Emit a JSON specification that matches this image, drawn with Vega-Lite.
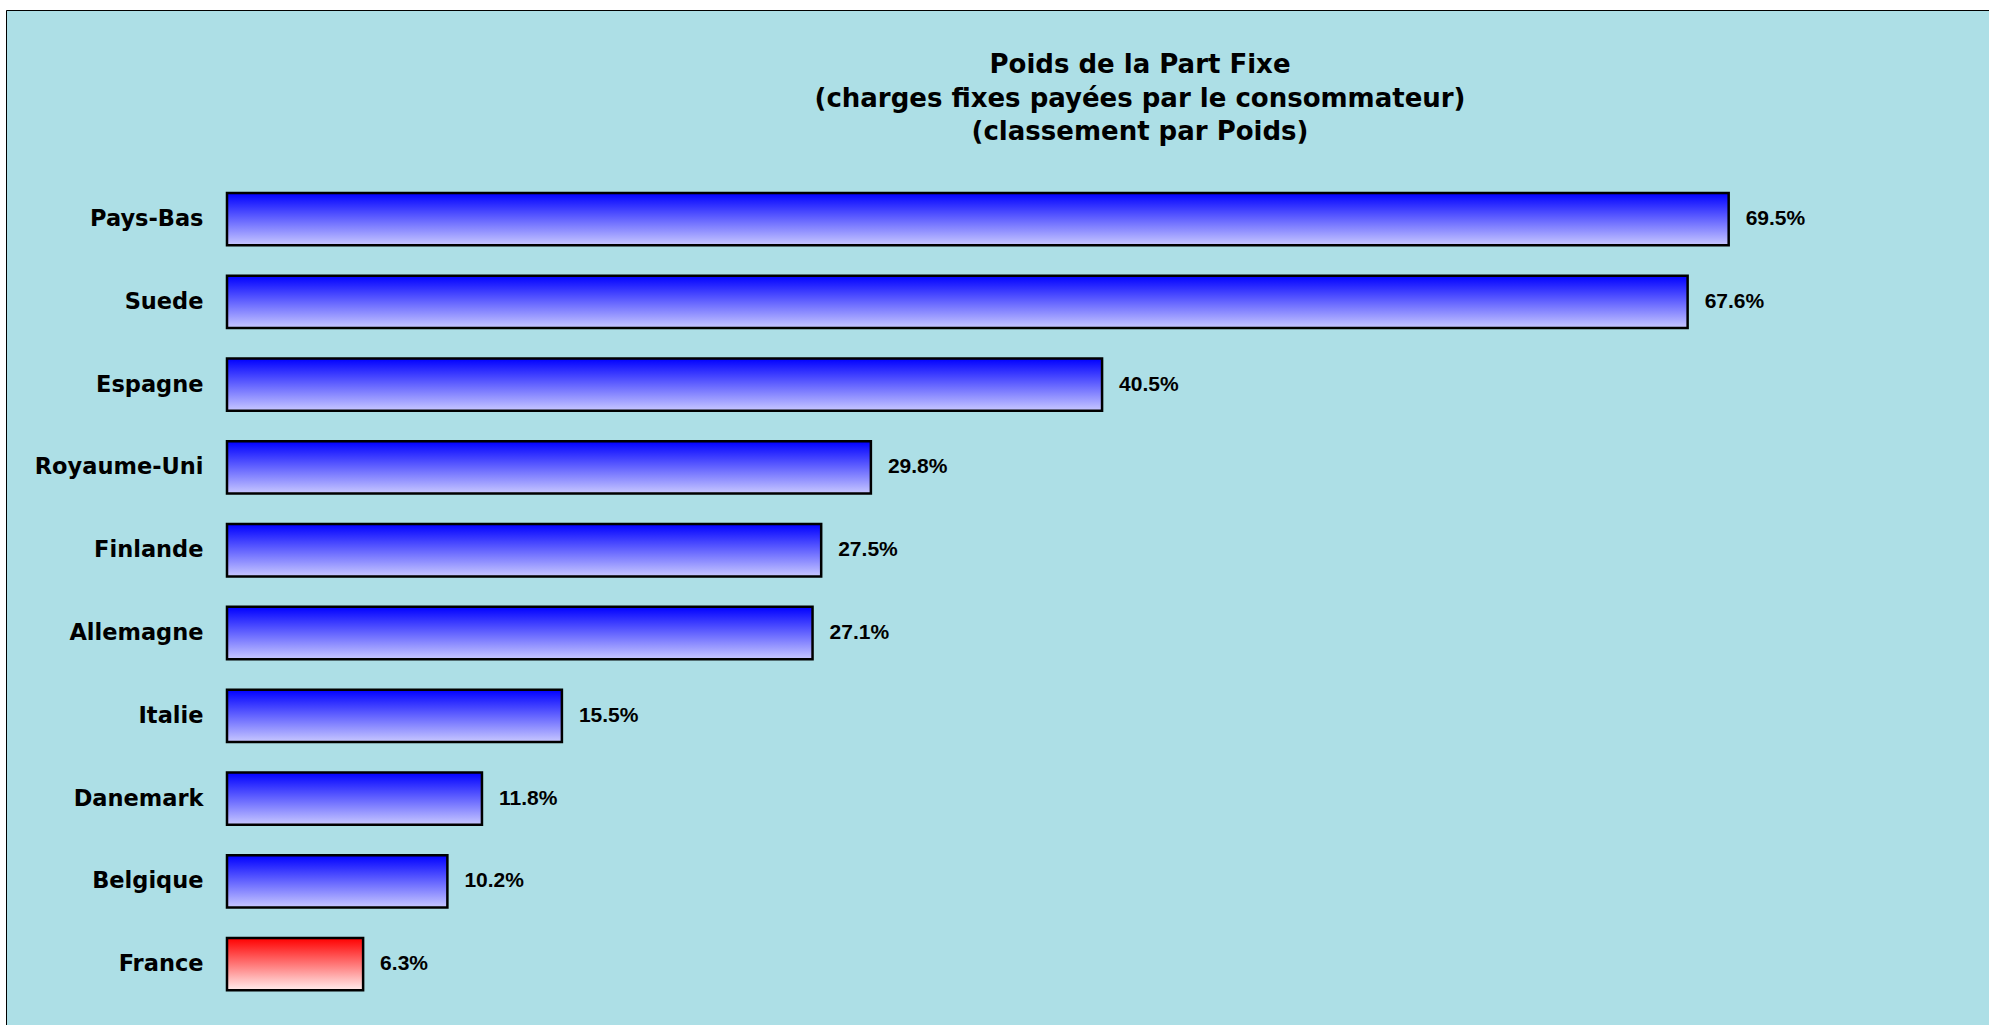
{
  "$schema": "https://vega.github.io/schema/vega-lite/v6.json",
  "autosize": {"type": "none"},
  "padding": {"left": 6, "top": 10, "right": 0, "bottom": 0},
  "width": 1983,
  "height": 1015,
  "background": "white",
  "config": {"view": {"stroke": null, "fill": "#addfe6"}},
  "title": {
    "text": ["Poids de la Part Fixe", "(charges fixes payées par le consommateur)", "(classement par Poids)"],
    "font": "DejaVu Sans",
    "fontSize": 26,
    "fontWeight": "bold",
    "lineHeight": 33.5,
    "anchor": "middle",
    "dx": 142.5,
    "offset": -135,
    "color": "black",
    "baseline": "top"
  },
  "data": {
    "values": [
      {"pays": "Pays-Bas", "poids": 0.695},
      {"pays": "Suede", "poids": 0.676},
      {"pays": "Espagne", "poids": 0.405},
      {"pays": "Royaume-Uni", "poids": 0.298},
      {"pays": "Finlande", "poids": 0.275},
      {"pays": "Allemagne", "poids": 0.271},
      {"pays": "Italie", "poids": 0.155},
      {"pays": "Danemark", "poids": 0.118},
      {"pays": "Belgique", "poids": 0.102},
      {"pays": "France", "poids": 0.063}
    ]
  },
  "encoding": {
    "y": {
      "field": "pays",
      "type": "nominal",
      "scale": {
        "domain": [" ", "  ", "Pays-Bas", "Suede", "Espagne", "Royaume-Uni", "Finlande", "Allemagne", "Italie", "Danemark", "Belgique", "France"],
        "paddingInner": 0.368,
        "paddingOuter": 0.3147,
        "align": 0.334
      },
      "axis": {
        "title": null,
        "orient": "left",
        "domain": true,
        "domainColor": "black",
        "domainWidth": 1,
        "ticks": false,
        "tickSize": 0,
        "grid": false,
        "labelPadding": -197,
        "labelAlign": "right",
        "labelBaseline": "middle",
        "labelFont": "DejaVu Sans",
        "labelFontSize": 22.5,
        "labelFontWeight": "bold",
        "labelColor": "black"
      }
    },
    "x": {
      "field": "poids",
      "type": "quantitative",
      "scale": {"domain": [-0.10228, 0.81548], "nice": false, "zero": false},
      "axis": {
        "orient": "top",
        "title": null,
        "labels": false,
        "ticks": false,
        "grid": false,
        "domain": true,
        "domainColor": "black",
        "domainWidth": 1
      }
    }
  },
  "layer": [
    {
      "mark": {"type": "bar", "stroke": "black", "strokeWidth": 2.5},
      "encoding": {
        "x2": {"datum": 0},
        "fill": {
          "condition": {
            "test": "datum.pays === 'France'",
            "value": {"gradient": "linear", "x1": 0, "y1": 0, "x2": 0, "y2": 1, "stops": [{"offset": 0, "color": "#ff0000"}, {"offset": 1, "color": "#ffeeee"}]}
          },
          "value": {"gradient": "linear", "x1": 0, "y1": 0, "x2": 0, "y2": 1, "stops": [{"offset": 0, "color": "#0000ff"}, {"offset": 1, "color": "#c8c8ff"}]}
        }
      }
    },
    {
      "mark": {"type": "text", "align": "left", "baseline": "middle", "dx": 17, "font": "Liberation Sans", "fontSize": 21, "fontWeight": "bold", "color": "black"},
      "encoding": {
        "text": {"field": "poids", "type": "quantitative", "format": ".1%"}
      }
    }
  ]
}
